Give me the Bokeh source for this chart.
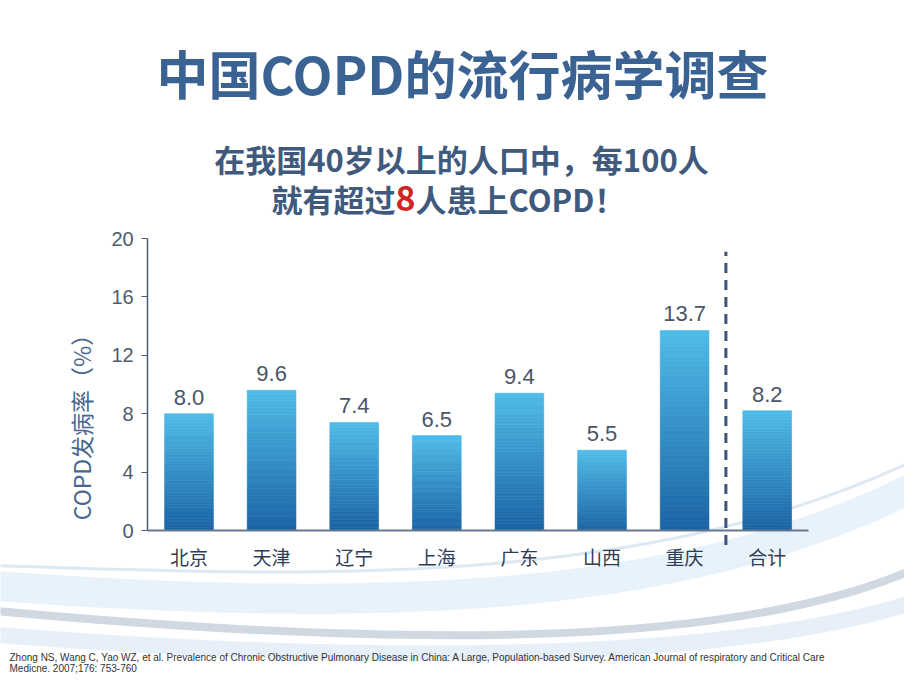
import math
from bokeh.plotting import figure
from bokeh.models import Range1d, LinearAxis, FixedTicker, Label
from bokeh.core.properties import value
from bokeh.embed import file_html
from bokeh.resources import INLINE

# ---- data ----
categories = ["北京", "天津", "辽宁", "上海", "广东", "山西", "重庆", "合计"]
rates = [8.0, 9.6, 7.4, 6.5, 9.4, 5.5, 13.7, 8.2]
y_ticks = [0, 4, 8, 12, 16, 20]

# ---- layout constants ----
W, H = 904, 674
X_PX = 82.6       # px per category
X0_PX = 188.5     # px of first category centre from left
Y_PX = 14.6       # px per unit
Y0_PX = H - 530.0 # px of y=0 from bottom

x_start = -X0_PX / X_PX
x_end = x_start + W / X_PX
y_start = -Y0_PX / Y_PX
y_end = y_start + H / Y_PX


def dx(px):  # screen px -> data x (decoration only)
    return x_start + px / X_PX


def dy(py):  # screen px (from top) -> data y (decoration only)
    return y_start + (H - py) / Y_PX


def sy(py):  # screen px from top -> label y (from bottom)
    return H - py


p = figure(width=W, height=H, x_range=Range1d(x_start, x_end),
           y_range=Range1d(y_start, y_end), output_backend="svg",
           toolbar_location=None, min_border=0,
           x_axis_type=None, y_axis_type=None)
p.outline_line_color = None
p.background_fill_color = "white"
p.border_fill_color = "white"

# ---- background decorative swooshes ----
waves = [
    ((-10, 585), (400, 615), (700, 600), (930, 478), "#d6e7f5", 30, 0.55),
    ((-10, 565), (300, 575), (650, 592), (930, 452), "#d3e4f3", 3, 0.8),
    ((-10, 634), (400, 666), (750, 660), (930, 596), "#dde9f5", 16, 0.7),
    ((-10, 610), (400, 648), (750, 650), (930, 561), "#bcc7d6", 8, 0.7),
]
for s, c1, c2, e, col, w, a in waves:
    p.bezier(x0=[dx(s[0])], y0=[dy(s[1])], cx0=[dx(c1[0])], cy0=[dy(c1[1])],
             cx1=[dx(c2[0])], cy1=[dy(c2[1])], x1=[dx(e[0])], y1=[dy(e[1])],
             line_color=col, line_width=w, line_alpha=a)

# ---- gradient bars (stacked slices) ----
N = 40
bottom_rgb = (0x1a, 0x63, 0xa3)
top_rgb = (0x4f, 0xbb, 0xe8)
xs, bots, tops, cols = [], [], [], []
for i, v in enumerate(rates):
    for k in range(N):
        t = (k + 0.5) / N
        rgb = tuple(int(round(b + (tt - b) * t)) for b, tt in zip(bottom_rgb, top_rgb))
        xs.append(i)
        bots.append(v * k / N)
        tops.append(v * (k + 1) / N)
        cols.append("#%02x%02x%02x" % rgb)
p.vbar(x=xs, bottom=bots, top=tops, width=0.59, fill_color=cols,
       line_color=cols, line_width=0.6)

# ---- value labels ----
p.text(x=list(range(len(rates))), y=rates, text=["%.1f" % v for v in rates],
       text_align="center", text_baseline="bottom", y_offset=-9,
       text_font=value("Liberation Sans"), text_font_size="22px",
       text_color="#4a5568")

# ---- dashed divider before total ----
div_x = len(categories) - 1.5
p.segment(x0=[div_x], y0=[-1.0], x1=[div_x], y1=[19.1],
          line_color="#3a5478", line_width=3, line_dash="10 7")

# ---- axes ----
yaxis = LinearAxis(ticker=FixedTicker(ticks=y_ticks), bounds=(0, 20),
                   fixed_location=-0.5)
yaxis.axis_line_color = "#4a5d78"
yaxis.axis_line_width = 1.5
yaxis.major_tick_line_color = "#4a5d78"
yaxis.major_tick_out = 6
yaxis.major_tick_in = 0
yaxis.minor_tick_line_color = None
yaxis.major_label_text_font = "Liberation Sans"
yaxis.major_label_text_font_size = "20px"
yaxis.major_label_text_color = "#4f5b6e"
yaxis.major_label_standoff = 8
p.add_layout(yaxis, "left")

xaxis = LinearAxis(ticker=FixedTicker(ticks=list(range(len(categories)))),
                   bounds=(-0.5, len(categories) - 0.5), fixed_location=0)
xaxis.major_label_overrides = {i: c for i, c in enumerate(categories)}
xaxis.axis_line_color = "#66788e"
xaxis.axis_line_width = 2
xaxis.major_tick_line_color = None
xaxis.minor_tick_line_color = None
xaxis.major_label_text_font = "Noto Sans CJK SC"
xaxis.major_label_text_font_size = "19px"
xaxis.major_label_text_color = "#2d3d58"
xaxis.major_label_standoff = 6
p.add_layout(xaxis, "below")

# ---- y axis title ----
p.add_layout(Label(x=80, y=sy(421), x_units="screen", y_units="screen",
                   text="COPD发病率（%）", angle=math.pi / 2,
                   text_align="center", text_baseline="middle",
                   text_font="Noto Sans CJK SC", text_font_size="23px",
                   text_color="#47678f"))

# ---- titles ----
p.add_layout(Label(x=462, y=sy(72), x_units="screen", y_units="screen",
                   text="中国COPD的流行病学调查", text_align="center",
                   text_baseline="middle", text_font="Noto Sans CJK SC",
                   text_font_style="bold", text_font_size="52px",
                   text_color="#3a6292"))
p.add_layout(Label(x=461, y=sy(158), x_units="screen", y_units="screen",
                   text="在我国40岁以上的人口中，每100人", text_align="center",
                   text_baseline="middle", text_font="Noto Sans CJK SC",
                   text_font_style="bold", text_font_size="31px",
                   text_color="#3f5a7c"))
c8 = 405
p.add_layout(Label(x=c8 - 10, y=sy(198), x_units="screen", y_units="screen",
                   text="就有超过", text_align="right", text_baseline="middle",
                   text_font="Noto Sans CJK SC", text_font_style="bold",
                   text_font_size="31px", text_color="#3f5a7c"))
p.add_layout(Label(x=c8, y=sy(198), x_units="screen", y_units="screen",
                   text="8", text_align="center", text_baseline="middle",
                   text_font="Noto Sans CJK SC", text_font_style="bold",
                   text_font_size="34px", text_color="#d02525"))
p.add_layout(Label(x=c8 + 10, y=sy(198), x_units="screen", y_units="screen",
                   text="人患上COPD！", text_align="left", text_baseline="middle",
                   text_font="Noto Sans CJK SC", text_font_style="bold",
                   text_font_size="31px", text_color="#3f5a7c"))

# ---- reference footnote ----
p.add_layout(Label(x=9, y=sy(657), x_units="screen", y_units="screen",
                   text="Zhong NS, Wang C, Yao WZ, et al. Prevalence of Chronic Obstructive "
                        "Pulmonary Disease in China: A Large, Population-based Survey.  "
                        "American Journal of respiratory and Critical Care",
                   text_align="left", text_baseline="middle",
                   text_font="Liberation Sans", text_font_size="10px",
                   text_color="#333333"))
p.add_layout(Label(x=9, y=sy(668), x_units="screen", y_units="screen",
                   text="Medicne. 2007;176: 753-760",
                   text_align="left", text_baseline="middle",
                   text_font="Liberation Sans", text_font_size="10px",
                   text_color="#333333"))

open("out.html", "w").write(file_html(p, INLINE))
